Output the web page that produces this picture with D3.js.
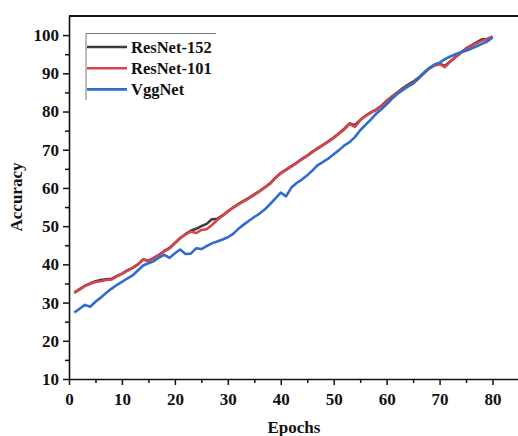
<!DOCTYPE html>
<html>
<head>
<meta charset="utf-8">
<script src="https://cdn.jsdelivr.net/npm/d3@7"></script>
<style>
  html, body { margin: 0; padding: 0; background: #fff; overflow: hidden; }
  text { font-family: "Liberation Serif", "Times New Roman", serif; font-weight: bold; fill: #111; }
</style>
</head>
<body>
<svg id="chart" width="518" height="436"></svg>
<script>
// epochs 1..80
const epochs = d3.range(1, 81);

const resnet152 = [
  32.6, 33.5, 34.4, 35.0, 35.6, 35.9, 36.1, 36.2, 36.9, 37.6,
  38.4, 39.1, 40.0, 41.3, 41.0, 41.7, 42.5, 43.5, 44.3, 45.6,
  46.9, 47.9, 48.8, 49.3, 50.0, 50.6, 51.8, 51.9, 52.8, 53.9,
  54.9, 55.8, 56.6, 57.4, 58.3, 59.2, 60.2, 61.2, 62.7, 63.9,
  64.8, 65.7, 66.6, 67.6, 68.5, 69.5, 70.4, 71.3, 72.2, 73.2,
  74.3, 75.5, 76.9, 76.4, 77.8, 78.9, 79.8, 80.5, 81.5, 82.8,
  83.9, 85.0, 86.1, 87.0, 87.8, 88.8, 90.1, 91.3, 92.1, 92.5,
  91.9, 93.1, 94.3, 95.4, 96.5, 97.3, 98.1, 98.9, 99.0, 99.6
];

const resnet101 = [
  32.6, 33.4, 34.3, 34.9, 35.4, 35.6, 35.9, 36.0, 36.8, 37.5,
  38.3, 39.0, 39.9, 41.2, 40.9, 41.6, 42.4, 43.4, 44.2, 45.5,
  46.8, 47.8, 48.6, 48.2, 49.0, 49.2, 50.3, 51.6, 52.7, 53.8,
  54.8, 55.7, 56.5, 57.3, 58.2, 59.1, 60.1, 61.1, 62.6, 63.8,
  64.7, 65.6, 66.5, 67.5, 68.4, 69.4, 70.3, 71.2, 72.1, 73.1,
  74.2, 75.3, 76.8, 76.0, 77.7, 78.8, 79.7, 80.4, 81.4, 82.7,
  83.8, 84.9, 85.9, 86.7, 87.5, 88.6, 90.0, 91.2, 92.0, 92.4,
  91.6, 93.0, 94.2, 95.3, 96.4, 97.2, 97.9, 98.5, 99.0, 99.6
];

const vggnet = [
  27.4, 28.4, 29.4, 28.9, 30.2, 31.3, 32.5, 33.6, 34.6, 35.4,
  36.3, 37.1, 38.4, 39.7, 40.3, 40.8, 41.8, 42.5, 41.7, 42.9,
  43.9, 42.7, 42.8, 44.2, 44.0, 44.8, 45.5, 46.0, 46.5, 47.1,
  48.0, 49.3, 50.4, 51.4, 52.4, 53.3, 54.4, 55.8, 57.3, 58.8,
  57.8, 60.1, 61.3, 62.2, 63.3, 64.6, 66.0, 66.8, 67.7, 68.8,
  69.9, 71.1, 72.0, 73.3, 75.1, 76.5, 77.9, 79.4, 80.6, 81.9,
  83.3, 84.6, 85.6, 86.5, 87.3, 88.6, 90.0, 91.3, 92.3, 92.8,
  93.7, 94.4, 95.0, 95.5, 95.9, 96.5, 97.1, 97.7, 98.3, 99.4
];

const seriesNames = ['ResNet-152', 'ResNet-101', 'VggNet'];
const seriesColors = ['#3b3b3b', '#d9434a', '#2f6dcc'];
const xTicks = [0, 10, 20, 30, 40, 50, 60, 70, 80];
const yTicks = [10, 20, 30, 40, 50, 60, 70, 80, 90, 100];

const svg = d3.select('#chart');
const plotLeft = 69, plotRight = 519, plotTop = 16, plotBottom = 379;

const x = d3.scaleLinear().domain([0, 85]).range([plotLeft, plotRight]);
const y = d3.scaleLinear().domain([10, 105]).range([plotBottom, plotTop]);

// minor ticks
svg.append('g')
  .attr('transform', `translate(0,${plotBottom})`)
  .call(d3.axisBottom(x).tickValues(d3.range(5, 86, 10)).tickSize(4).tickFormat(''))
  .call(g => g.select('.domain').remove())
  .selectAll('line').attr('stroke', '#111').attr('stroke-width', 1.5);
svg.append('g')
  .attr('transform', `translate(${plotLeft},0)`)
  .call(d3.axisLeft(y).tickValues(d3.range(15, 100, 10)).tickSize(4).tickFormat(''))
  .call(g => g.select('.domain').remove())
  .selectAll('line').attr('stroke', '#111').attr('stroke-width', 1.5);

// major axes
let xAxis = svg.append('g')
  .attr('transform', `translate(0,${plotBottom})`)
  .call(d3.axisBottom(x).tickValues(xTicks).tickSize(6).tickPadding(8).tickSizeOuter(0));
let yAxis = svg.append('g')
  .attr('transform', `translate(${plotLeft},0)`)
  .call(d3.axisLeft(y).tickValues(yTicks).tickSize(6).tickPadding(4).tickSizeOuter(0));
[xAxis, yAxis].forEach(g => {
  g.select('.domain').attr('stroke', '#111').attr('stroke-width', 1.6);
  g.selectAll('line').attr('stroke', '#111').attr('stroke-width', 1.5);
  g.selectAll('text').style('font-size', '17px').style('font-family', '"Liberation Serif", serif')
    .style('font-weight', 'bold').attr('fill', '#111');
});

// top frame line
svg.append('line')
  .attr('x1', plotLeft).attr('x2', 518).attr('y1', plotTop).attr('y2', plotTop)
  .attr('stroke', '#111').attr('stroke-width', 2);

// lines
const line = d3.line()
  .x((d, i) => x(epochs[i]))
  .y(d => y(d));
[resnet152, resnet101, vggnet].forEach((s, k) => {
  svg.append('path')
    .datum(s)
    .attr('d', line)
    .attr('fill', 'none')
    .attr('stroke', seriesColors[k])
    .attr('stroke-width', 2.6)
    .attr('stroke-linejoin', 'round');
});

// legend
const lg = svg.append('g');
lg.append('path')
  .attr('d', 'M86,100V33.5H216')
  .attr('fill', 'none').attr('stroke', '#777').attr('stroke-width', 1);
seriesNames.forEach((name, i) => {
  const ly = 47 + i * 21.2;
  lg.append('line')
    .attr('x1', 87).attr('x2', 127).attr('y1', ly).attr('y2', ly)
    .attr('stroke', seriesColors[i]).attr('stroke-width', 2.6);
  lg.append('text')
    .attr('x', 131).attr('y', ly).attr('dy', '0.35em')
    .style('font-size', '16.5px')
    .text(name);
});

// axis titles
svg.append('text')
  .attr('x', 294).attr('y', 433)
  .attr('text-anchor', 'middle')
  .style('font-size', '17px')
  .text('Epochs');
svg.append('text')
  .attr('transform', 'translate(22,197) rotate(-90)')
  .attr('text-anchor', 'middle')
  .style('font-size', '17px')
  .text('Accuracy');
</script>
</body>
</html>
